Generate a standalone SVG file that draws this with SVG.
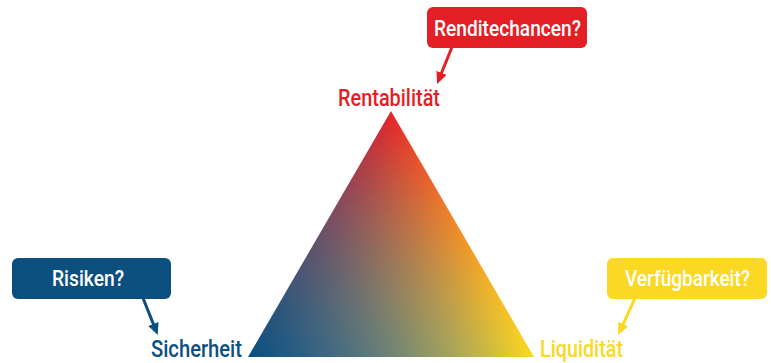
<svg xmlns="http://www.w3.org/2000/svg" width="771" height="363" viewBox="0 0 771 363">
<style>
text{font-family:Roboto,"Liberation Sans",sans-serif;font-weight:500;}
.bt{fill:#fff;font-size:22px;}
.lbl{font-size:23px;}
.red{fill:#e31e25;}
.blue{fill:#0b4f7f;}
.yel{fill:#fad824;}
.ln{stroke-width:3;fill:none;}
</style>
<defs>
<linearGradient id="wr" gradientUnits="userSpaceOnUse" x1="0" y1="111" x2="0" y2="357">
<stop offset="0" stop-color="#ff0000"/>
<stop offset="1" stop-color="#000000"/>
</linearGradient>
<linearGradient id="wb" gradientUnits="userSpaceOnUse" x1="248" y1="357" x2="461.8" y2="232.7">
<stop offset="0" stop-color="#00ff00"/>
<stop offset="1" stop-color="#000000"/>
</linearGradient>
<filter id="bary" filterUnits="userSpaceOnUse" x="240" y="100" width="300" height="263" color-interpolation-filters="sRGB">
<feColorMatrix in="SourceGraphic" type="matrix" result="s1" values="2 0 0 0 0  0 2 0 0 0  2 0 0 0 0  0 0 0 0 1"/>
<feColorMatrix in="SourceGraphic" type="matrix" result="s2" values="2 0 0 0 0  0 2 0 0 0  0 2 0 0 0  0 0 0 0 1"/>
<feComposite in="s1" in2="s2" operator="arithmetic" k1="1" k2="0" k3="0" k4="0" result="m"/>
<feColorMatrix in="m" type="matrix" result="q" values="0 0.3137 0.0941 0 0.3922  -0.3059 0.2510 0.3137 0 0.6275  -0.0627 -0.5882 -0.3294 0 0.7843  0 0 0 0 1"/>
<feColorMatrix in="SourceGraphic" type="matrix" result="l" values="-0.0863 -1.2549 0 0 0.7961  -0.4118 -0.7922 0 0 0.6118  0.0941 0.9608 0 0 0.1706  0 0 0 0 1"/>
<feComposite in="l" in2="q" operator="arithmetic" k1="0" k2="2" k3="1" k4="-1"/>
</filter>
<clipPath id="tri"><polygon points="391,111 248,357 534,357"/></clipPath>
<marker id="ar" markerUnits="userSpaceOnUse" markerWidth="12" markerHeight="11" refX="5" refY="5.5" orient="auto"><path d="M0,0 L12,5.5 L0,11 z" fill="#e31e25"/></marker>
<marker id="ab" markerUnits="userSpaceOnUse" markerWidth="12" markerHeight="11" refX="5" refY="5.5" orient="auto"><path d="M0,0 L12,5.5 L0,11 z" fill="#0b4f7f"/></marker>
<marker id="ay" markerUnits="userSpaceOnUse" markerWidth="12" markerHeight="11" refX="5" refY="5.5" orient="auto"><path d="M0,0 L12,5.5 L0,11 z" fill="#fad824"/></marker>
</defs>
<g id="triangle" clip-path="url(#tri)">
<g filter="url(#bary)">
<rect x="240" y="100" width="300" height="263" fill="url(#wr)"/>
<rect x="240" y="100" width="300" height="263" fill="url(#wb)" fill-opacity="0.5"/>
</g>
</g>
<g id="rentabilitaet"><text class="lbl red" x="338" y="106" textLength="102" lengthAdjust="spacingAndGlyphs">Rentabilität</text></g>
<g id="sicherheit"><text class="lbl blue" x="151" y="357" textLength="91" lengthAdjust="spacingAndGlyphs">Sicherheit</text></g>
<g id="liquiditaet"><text class="lbl yel" x="540" y="357" textLength="83" lengthAdjust="spacingAndGlyphs">Liquidität</text></g>
<g id="renditechancen">
<rect class="red" x="427" y="7" width="160" height="41" rx="6"/>
<text class="bt" x="434" y="36" textLength="147" lengthAdjust="spacingAndGlyphs">Renditechancen?</text>
</g>
<g id="risiken">
<rect class="blue" x="12" y="258" width="159" height="41" rx="6"/>
<text class="bt" x="52" y="286" textLength="72" lengthAdjust="spacingAndGlyphs">Risiken?</text>
</g>
<g id="verfuegbarkeit">
<rect class="yel" x="607" y="258" width="160" height="41" rx="6"/>
<text class="bt" x="625" y="286" textLength="125" lengthAdjust="spacingAndGlyphs">Verfügbarkeit?</text>
</g>
<g id="connectors">
<line class="ln" x1="452" y1="47" x2="439.7" y2="77.5" stroke="#e31e25" marker-end="url(#ar)"/>
<line class="ln" x1="143" y1="298" x2="155.2" y2="328.6" stroke="#0b4f7f" marker-end="url(#ab)"/>
<line class="ln" x1="635" y1="298" x2="621.1" y2="328.7" stroke="#fad824" marker-end="url(#ay)"/>
</g>
</svg>
